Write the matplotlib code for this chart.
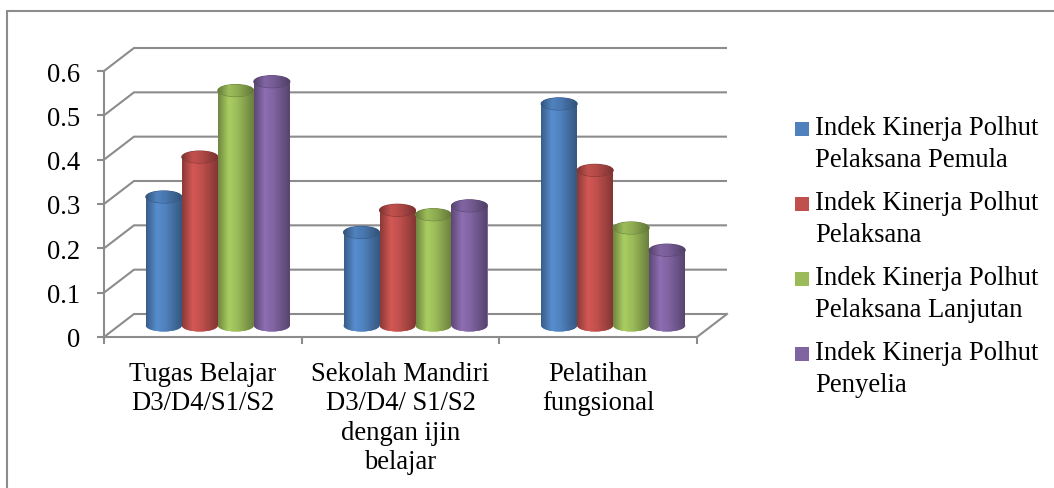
import matplotlib
matplotlib.use('Agg')
import numpy as np
import matplotlib.pyplot as plt
import matplotlib.colors as mcolors
from matplotlib.patches import Ellipse, Rectangle

plt.rcParams['font.family'] = ['Liberation Serif', 'DejaVu Serif']
plt.rcParams['font.size'] = 19.2

# data
categories = ['Tugas Belajar\nD3/D4/S1/S2',
              'Sekolah Mandiri\nD3/D4/ S1/S2\ndengan ijin\nbelajar',
              'Pelatihan\nfungsional']
series = ['Indek Kinerja Polhut\nPelaksana Pemula',
          'Indek Kinerja Polhut\nPelaksana',
          'Indek Kinerja Polhut\nPelaksana Lanjutan',
          'Indek Kinerja Polhut\nPenyelia']
pemula = [0.29, 0.21, 0.50]
pelaksana = [0.38, 0.26, 0.35]
lanjutan = [0.53, 0.25, 0.22]
penyelia = [0.55, 0.27, 0.17]
yticks = [0, 0.1, 0.2, 0.3, 0.4, 0.5, 0.6]
colors = ['#4F81BD', '#C0504D', '#9BBB59', '#8064A2']

W, H = 1054, 489
fig = plt.figure(figsize=(W / 100, H / 100), dpi=100)
ax = fig.add_axes([104 / W, (H - 338) / H, 593 / W, 266 / H])
ax.set_facecolor('none')

# fake 3d depth, in data units
dx = 30 / 593 * 3
dy = 23 / 266 * 0.6
grid_c = '#8c8c8c'

# back wall + side wall gridlines
for v in yticks:
    ax.plot([0, dx, 3 + dx], [v, v + dy, v + dy], color=grid_c, lw=1.5,
            clip_on=False, zorder=1, solid_capstyle='butt')
ax.plot([3, 3 + dx], [0, dy], color=grid_c, lw=1.5, clip_on=False, zorder=1)

for s in ['top', 'right']:
    ax.spines[s].set_visible(False)
for s in ['left', 'bottom']:
    ax.spines[s].set_color(grid_c)
    ax.spines[s].set_linewidth(1.5)

ax.set_yticks(yticks, labels=[f'{v:g}' for v in yticks])
ax.set_xticks([0, 1, 2, 3], labels=[])
ax.set_xticks([0.5, 1.5, 2.5], labels=categories, minor=True)
for lab in ax.get_xticklabels(minor=True):
    lab.set_linespacing(1.24)
ax.tick_params(axis='y', length=5, width=1.5, color=grid_c, pad=12)
ax.tick_params(axis='x', which='major', length=5, width=1.5, color=grid_c)
ax.tick_params(axis='x', which='minor', length=0, pad=17)


def gradient(patch, c, extent, z, k=1.0):
    rgb = np.array(mcolors.to_rgb(c))
    t = np.linspace(0, 1, 64)
    f = np.interp(t, [0, 0.3, 0.55, 1], [0.72, 1.1, 1.0, 0.68]) * k
    img = np.clip(rgb[None, :] * f[:, None], 0, 1)[None, :, :]
    im = ax.imshow(img, extent=extent, aspect='auto', zorder=z,
                   interpolation='bicubic')
    im.set_clip_path(patch)


bw = 36 / 593 * 3
eh = 12 / 266 * 0.6
x = np.arange(3) + 0.5 + dx / 2
groups = [pemula, pelaksana, lanjutan, penyelia]
for k, (vals, c) in enumerate(zip(groups, colors)):
    xs = x + (k - 1.5) * bw
    bars = ax.bar(xs, vals, bw, bottom=dy / 2, color=c, linewidth=0, zorder=3 + k)
    for b, xc, v in zip(bars, xs, vals):
        z = 3 + k
        bot = Ellipse((xc, dy / 2), bw, eh, color=c, lw=0, zorder=z)
        ax.add_patch(bot)
        gradient(bot, c, [xc - bw / 2, xc + bw / 2, 0, dy], z)
        gradient(b, c, [xc - bw / 2, xc + bw / 2, dy / 2, v + dy / 2], z)
        top = Ellipse((xc, v + dy / 2), bw, eh, zorder=z + 0.5,
                      fc=c, ec=np.array(mcolors.to_rgb(c)) * 0.7, lw=0.8)
        ax.add_patch(top)
        gradient(top, c, [xc - bw / 2, xc + bw / 2, v, v + dy], z + 0.5, k=0.92)

ax.set_xlim(0, 3)
ax.set_ylim(0, 0.6)

# legend
for i, (name, c) in enumerate(zip(series, colors)):
    yb = 137 + 75 * i
    fig.add_artist(Rectangle((795 / W, 1 - yb / H), 14 / W, 14 / H,
                             transform=fig.transFigure, color=c, lw=0))
    fig.text(815 / W, 1 - (yb + 30) / H, name, va='baseline', ha='left',
             linespacing=1.36)

# outer frame
fig.add_artist(Rectangle((7 / W, -0.1), 1.2, 1 - 12 / H + 0.1,
                         transform=fig.transFigure, fill=False,
                         ec='#8c8c8c', lw=1.5))

fig.savefig('out.png', dpi=100)
